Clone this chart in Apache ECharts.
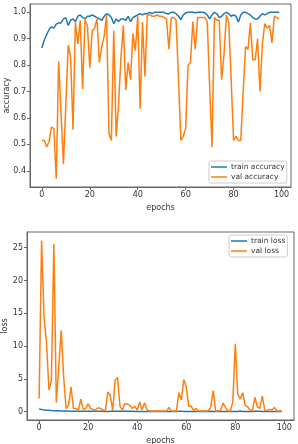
<!DOCTYPE html>
<html><head><meta charset="utf-8">
<script src="https://cdn.jsdelivr.net/npm/echarts@6/dist/echarts.min.js"></script>
<style>html,body{margin:0;padding:0;background:#fff}#c{width:298px;height:444px}</style>
</head><body><div id="c"></div>
<script>
const epochs = Array.from({length: 100}, (_, i) => i);
const xTicks = [0, 20, 40, 60, 80, 100];
const accTicks = [0.4, 0.5, 0.6, 0.7, 0.8, 0.9, 1.0];
const lossTicks = [0, 5, 10, 15, 20, 25];

const trainAcc = [0.865,0.895,0.915,0.935,0.945,0.94,0.955,0.96,0.96,0.975,
0.98,0.95,0.97,0.975,0.965,0.985,0.99,0.98,0.975,0.985,
0.985,0.99,0.985,0.98,0.975,0.97,0.985,0.995,0.99,0.98,
0.957,0.975,0.965,0.975,0.975,0.97,0.985,0.965,0.98,0.985,
0.99,0.995,0.99,0.995,0.995,1.0,0.995,1.0,1.0,1.0,
1.0,1.0,0.995,0.995,1.0,1.0,0.995,0.985,0.972,0.99,
0.998,1.0,1.0,1.0,0.998,1.0,1.0,1.0,0.998,0.99,
0.975,0.99,1.0,0.995,0.98,0.985,0.995,1.0,0.995,0.985,
0.99,0.985,0.963,0.99,1.0,1.0,0.995,0.99,0.98,0.975,
0.975,0.985,0.995,0.99,0.995,1.0,1.0,1.0,1.0,1.0];

const valAcc = [0.515,0.515,0.49,0.51,0.565,0.56,0.37,0.815,0.62,0.425,
0.65,0.875,0.83,0.555,0.965,0.88,0.97,0.71,0.97,0.95,
0.79,0.93,0.94,0.975,0.81,0.87,0.91,0.99,0.54,0.515,
0.93,0.53,0.65,0.83,0.95,0.705,0.81,0.745,0.92,0.855,
0.985,0.635,0.963,0.757,0.99,0.99,0.985,0.985,0.99,0.985,
0.985,0.98,0.975,0.86,0.98,0.98,0.97,0.75,0.515,0.53,
0.56,0.80,0.81,0.965,0.86,0.98,0.98,0.98,0.98,0.965,
0.72,0.49,0.98,0.97,0.97,0.745,0.84,0.99,0.96,0.74,
0.515,0.53,0.515,0.515,0.70,0.87,0.86,0.96,0.82,0.82,
0.90,0.70,0.88,0.957,0.94,0.95,0.884,0.985,0.98,0.975];

const trainLoss = [0.40,0.33,0.28,0.24,0.21,0.18,0.16,0.14,0.13,0.12,
0.11,0.12,0.10,0.09,0.09,0.08,0.07,0.07,0.08,0.07,
0.06,0.06,0.06,0.06,0.07,0.07,0.06,0.05,0.05,0.06,
0.10,0.07,0.08,0.07,0.07,0.07,0.06,0.07,0.06,0.05,
0.05,0.04,0.05,0.04,0.04,0.04,0.04,0.04,0.04,0.04,
0.04,0.04,0.04,0.04,0.04,0.04,0.05,0.06,0.09,0.05,
0.04,0.04,0.04,0.04,0.04,0.04,0.04,0.04,0.04,0.05,
0.08,0.05,0.04,0.04,0.05,0.05,0.04,0.04,0.04,0.05,
0.05,0.05,0.10,0.05,0.04,0.04,0.04,0.05,0.06,0.06,
0.06,0.05,0.04,0.05,0.04,0.04,0.04,0.04,0.04,0.04];

const valLoss = [2.0,26.1,14.4,10.6,3.3,4.8,25.6,1.36,6.8,12.4,
5.3,0.5,1.0,3.8,0.5,0.5,0.25,1.9,0.35,0.5,
1.2,0.5,0.35,0.25,0.6,0.5,0.25,0.15,3.0,2.5,
0.25,4.8,5.2,0.75,0.3,1.25,1.15,1.0,0.5,0.85,
0.25,1.5,0.25,1.35,0.3,0.1,0.1,0.1,0.1,0.1,
0.1,0.1,0.1,0.65,0.1,0.1,0.1,2.9,1.8,4.9,
3.8,0.85,0.85,0.2,0.5,0.1,0.1,0.1,0.1,0.15,
0.65,3.2,0.1,0.1,0.2,1.35,0.65,0.1,0.1,1.5,
10.35,2.7,1.9,2.9,1.0,0.75,0.25,0.2,2.2,0.75,
0.5,2.4,0.25,0.2,0.35,0.3,0.65,0.1,0.1,0.1];

const C_BLUE = '#1f77b4', C_ORANGE = '#ff7f0e';
const FONT = 'DejaVu Sans';
const pairs = arr => epochs.map((e, i) => [e, arr[i]]);

function xAxis(gi) {
  return {
    type: 'value', gridIndex: gi, min: -4.95, max: 103.95,
    name: 'epochs', nameLocation: 'middle', nameGap: gi === 0 ? 17 : 17, nameMoveOverlap: false,
    nameTextStyle: {fontFamily: FONT, fontSize: 8, color: '#333'},
    axisLine: {show: true, onZero: false, lineStyle: {color: '#666'}},
    axisTick: {show: true, length: 3, lineStyle: {color: '#666'}, customValues: xTicks},
    axisLabel: {fontFamily: FONT, fontSize: 8, color: '#333', margin: 4, customValues: xTicks, showMinLabel: true, showMaxLabel: true},
    splitLine: {show: false}
  };
}
function yAxis(gi, name, min, max, ticks, fmt, gap) {
  return {
    type: 'value', gridIndex: gi, min: min, max: max,
    name: name, nameLocation: 'middle', nameGap: gap, nameRotate: 90, nameMoveOverlap: false,
    nameTextStyle: {fontFamily: FONT, fontSize: 8, color: '#333'},
    axisLine: {show: true, onZero: false, lineStyle: {color: '#666'}},
    axisTick: {show: true, length: 3, lineStyle: {color: '#666'}, customValues: ticks},
    axisLabel: {fontFamily: FONT, fontSize: 8, color: '#333', margin: 4, customValues: ticks, formatter: fmt},
    splitLine: {show: false}
  };
}

const chart = echarts.init(document.getElementById('c'), null, {renderer: 'canvas'});
chart.setOption({
  animation: false,
  backgroundColor: '#fff',
  grid: [
    {left: 30, right: 7, top: 4, height: 183, show: true, borderColor: '#666', borderWidth: 1, containLabel: false, outerBoundsMode: 'none'},
    {left: 27, right: 4, top: 232, height: 188, show: true, borderColor: '#666', borderWidth: 1, containLabel: false, outerBoundsMode: 'none'}
  ],
  xAxis: [xAxis(0), xAxis(1)],
  yAxis: [
    yAxis(0, 'accuracy', 0.3385, 1.0315, accTicks, v => v.toFixed(1), 19),
    yAxis(1, 'loss', -1.263, 27.40, lossTicks, v => String(Math.round(v)), 18)
  ],
  legend: [
    {data: ['train accuracy', 'val accuracy'], orient: 'vertical', left: 209, top: 161,
     icon: 'rect', itemWidth: 16, itemHeight: 1.5, itemGap: 2,
     textStyle: {fontFamily: FONT, fontSize: 7.5, color: '#333', padding: [0,0,0,-1]},
     backgroundColor: '#fff', borderColor: '#ccc', borderWidth: 1, borderRadius: 2, padding: [2, 2, 2, 2]},
    {data: ['train loss', 'val loss'], orient: 'vertical', left: 229, top: 235,
     icon: 'rect', itemWidth: 16, itemHeight: 1.5, itemGap: 2,
     textStyle: {fontFamily: FONT, fontSize: 7.5, color: '#333', padding: [0,0,0,-1]},
     backgroundColor: '#fff', borderColor: '#ccc', borderWidth: 1, borderRadius: 2, padding: [2, 2, 2, 2]}
  ],
  series: [
    {name: 'train accuracy', type: 'line', xAxisIndex: 0, yAxisIndex: 0, data: pairs(trainAcc), symbol: 'none', lineStyle: {width: 1.5, color: C_BLUE}, itemStyle: {color: C_BLUE}},
    {name: 'val accuracy', type: 'line', xAxisIndex: 0, yAxisIndex: 0, data: pairs(valAcc), symbol: 'none', lineStyle: {width: 1.5, color: C_ORANGE}, itemStyle: {color: C_ORANGE}},
    {name: 'train loss', type: 'line', xAxisIndex: 1, yAxisIndex: 1, data: pairs(trainLoss), symbol: 'none', lineStyle: {width: 1.5, color: C_BLUE}, itemStyle: {color: C_BLUE}},
    {name: 'val loss', type: 'line', xAxisIndex: 1, yAxisIndex: 1, data: pairs(valLoss), symbol: 'none', lineStyle: {width: 1.5, color: C_ORANGE}, itemStyle: {color: C_ORANGE}}
  ]
});
</script></body></html>
